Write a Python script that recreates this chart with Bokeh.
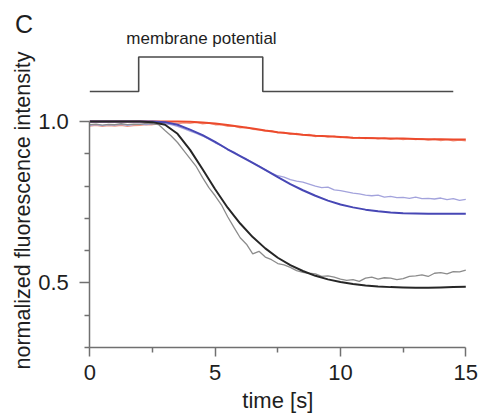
import math
from bokeh.plotting import figure
from bokeh.models import FixedTicker, Label
from bokeh.embed import file_html
from bokeh.resources import INLINE

# ---------------- data ----------------
t_fit = [0, 0.5, 1, 1.5, 2, 2.5, 3, 3.5, 4, 4.5, 5, 5.5, 6, 6.5, 7, 7.5, 8, 8.5, 9, 9.5,
         10, 10.5, 11, 11.5, 12, 12.5, 13, 13.5, 14, 14.5, 15]
black_fit = [1.0, 1.0, 1.0, 1.0, 1.0, 0.998, 0.99, 0.962, 0.912, 0.852, 0.79, 0.733, 0.684,
             0.642, 0.607, 0.578, 0.555, 0.537, 0.522, 0.511, 0.503, 0.497, 0.492, 0.489,
             0.487, 0.486, 0.485, 0.485, 0.486, 0.487, 0.488]
blue_fit = [1.0, 1.0, 1.0, 1.0, 1.0, 1.0, 0.998, 0.99, 0.975, 0.958, 0.937, 0.914, 0.893,
            0.872, 0.85, 0.828, 0.806, 0.787, 0.77, 0.755, 0.743, 0.734, 0.727, 0.722,
            0.718, 0.716, 0.715, 0.714, 0.714, 0.714, 0.714]
red_fit = [1.0, 1.0, 1.0, 1.0, 1.0, 1.0, 1.0, 1.0, 0.999, 0.997, 0.994, 0.989, 0.984, 0.978,
           0.972, 0.967, 0.963, 0.959, 0.956, 0.954, 0.952, 0.95, 0.949, 0.948, 0.947,
           0.947, 0.946, 0.945, 0.945, 0.944, 0.944]

t_data = [0, 0.25, 0.5, 0.75, 1, 1.25, 1.5, 1.75, 2, 2.25, 2.5, 2.75, 3, 3.25, 3.5, 3.75,
          4, 4.25, 4.5, 4.75, 5, 5.25, 5.5, 5.75, 6, 6.25, 6.5, 6.75, 7, 7.25, 7.5, 7.75,
          8, 8.25, 8.5, 8.75, 9, 9.25, 9.5, 9.75, 10, 10.25, 10.5, 10.75, 11, 11.25, 11.5,
          11.75, 12, 12.25, 12.5, 12.75, 13, 13.25, 13.5, 13.75, 14, 14.25, 14.5, 14.75, 15]
gray_data = [0.99, 0.992, 0.989, 0.991, 0.99, 0.993, 0.99, 0.992, 0.991, 0.994, 0.993,
             0.99, 0.972, 0.955, 0.935, 0.91, 0.885, 0.86, 0.826, 0.795, 0.77, 0.742,
             0.705, 0.672, 0.64, 0.62, 0.59, 0.598, 0.58, 0.572, 0.56, 0.556, 0.548, 0.538,
             0.533, 0.53, 0.528, 0.52, 0.522, 0.518, 0.512, 0.508, 0.51, 0.505, 0.515,
             0.518, 0.512, 0.516, 0.515, 0.51, 0.513, 0.52, 0.522, 0.525, 0.52, 0.53, 0.532,
             0.528, 0.535, 0.534, 0.54]
blue_data = [0.988, 0.99, 0.987, 0.99, 0.989, 0.991, 0.988, 0.99, 0.992, 0.99, 0.993,
             0.995, 0.993, 0.99, 0.985, 0.978, 0.97, 0.963, 0.955, 0.945, 0.934, 0.925,
             0.913, 0.905, 0.893, 0.884, 0.872, 0.862, 0.85, 0.84, 0.832, 0.828, 0.82,
             0.815, 0.812, 0.806, 0.8, 0.795, 0.797, 0.788, 0.786, 0.782, 0.778, 0.776,
             0.772, 0.77, 0.772, 0.766, 0.768, 0.764, 0.765, 0.762, 0.766, 0.761, 0.762,
             0.76, 0.763, 0.758, 0.761, 0.756, 0.759]
red_data = [0.986, 0.988, 0.985, 0.987, 0.986, 0.988, 0.985, 0.987, 0.988, 0.99, 0.99,
            0.992, 0.993, 0.995, 0.993, 0.996, 0.994, 0.997, 0.993, 0.995, 0.99, 0.99,
            0.985, 0.986, 0.98, 0.982, 0.976, 0.974, 0.97, 0.972, 0.965, 0.966, 0.96,
            0.963, 0.958, 0.96, 0.953, 0.956, 0.952, 0.955, 0.95, 0.953, 0.948, 0.951,
            0.947, 0.95, 0.946, 0.949, 0.945, 0.948, 0.944, 0.947, 0.944, 0.946, 0.942,
            0.945, 0.941, 0.944, 0.94, 0.942, 0.94]

# membrane potential (stimulus) trace, drawn above the axes in the same units
stim_t = [0, 1.95, 1.95, 6.9, 6.9, 14.5]
stim_level = [1.093, 1.093, 1.2, 1.2, 1.093, 1.093]

x_major = [0, 5, 10, 15]
x_minor = [2.5, 7.5, 12.5]
y_major = [0.5, 1.0]
y_minor = [0.3, 0.4, 0.6, 0.7, 0.8, 0.9]

FONT = "Liberation Sans"
TXT = "#1e1e1e"

# frame covers the whole canvas; axes are pinned at x=0 and y=0.3
p = figure(frame_width=481, frame_height=416, min_border=0,
           x_range=(-3.5625, 15.6263), y_range=(0.08628, 1.37477),
           output_backend="svg", toolbar_location=None)
p.outline_line_color = None
p.xgrid.visible = False
p.ygrid.visible = False
p.background_fill_color = "white"
p.border_fill_color = "white"

p.line(t_data, red_data, line_color="#f29a86", line_width=1.3)
p.line(t_data, blue_data, line_color="#a3a3dc", line_width=1.3)
p.line(t_data, gray_data, line_color="#8c8c8c", line_width=1.3)
p.line(t_fit, red_fit, line_color="#ec4a2c", line_width=2)
p.line(t_fit, blue_fit, line_color="#4747b5", line_width=2)
p.line(t_fit, black_fit, line_color="#262626", line_width=2)
p.line(stim_t, stim_level, line_color="#4a4a4a", line_width=1.6)

p.xaxis.fixed_location = 0.3
p.yaxis.fixed_location = 0
p.xaxis.ticker = FixedTicker(ticks=x_major, minor_ticks=x_minor)
p.yaxis.ticker = FixedTicker(ticks=y_major, minor_ticks=y_minor)
p.xaxis.bounds = (0, 15)
p.yaxis.bounds = (0.3, 1.0)
p.yaxis.major_label_overrides = {0.5: "0.5", 1.0: "1.0"}
for ax in (p.xaxis, p.yaxis):
    ax.axis_line_color = "#707070"
    ax.axis_line_width = 1.5
    ax.major_tick_line_color = "#707070"
    ax.minor_tick_line_color = "#707070"
    ax.major_tick_line_width = 1.5
    ax.minor_tick_line_width = 1.5
    ax.major_tick_in = 0
    ax.minor_tick_in = 0
    ax.minor_tick_out = 5
    ax.major_label_text_font = FONT
    ax.major_label_text_font_size = "22px"
    ax.major_label_text_color = TXT
p.xaxis.major_tick_out = 9
p.yaxis.major_tick_out = 10
p.xaxis.major_label_standoff = 9
p.yaxis.major_label_standoff = 11

# texts
p.add_layout(Label(x=4.456, y=1.2571, text="membrane potential", text_align="center",
                   text_baseline="alphabetic", text_font=FONT, text_font_size="17px",
                   text_color=TXT))
p.add_layout(Label(x=-2.625, y=1.3005, text="C", text_align="center",
                   text_baseline="alphabetic", text_font=FONT, text_font_size="25px",
                   text_color=TXT))
p.add_layout(Label(x=7.5, y=0.1359, text="time [s]", text_align="center",
                   text_baseline="alphabetic", text_font=FONT, text_font_size="22px",
                   text_color=TXT))
p.add_layout(Label(x=-2.65, y=0.7243, text="normalized fluorescence intensity",
                   angle=math.pi / 2, text_align="center", text_baseline="middle",
                   text_font=FONT, text_font_size="21.5px", text_color=TXT))

open("out.html", "w").write(file_html(p, INLINE))
